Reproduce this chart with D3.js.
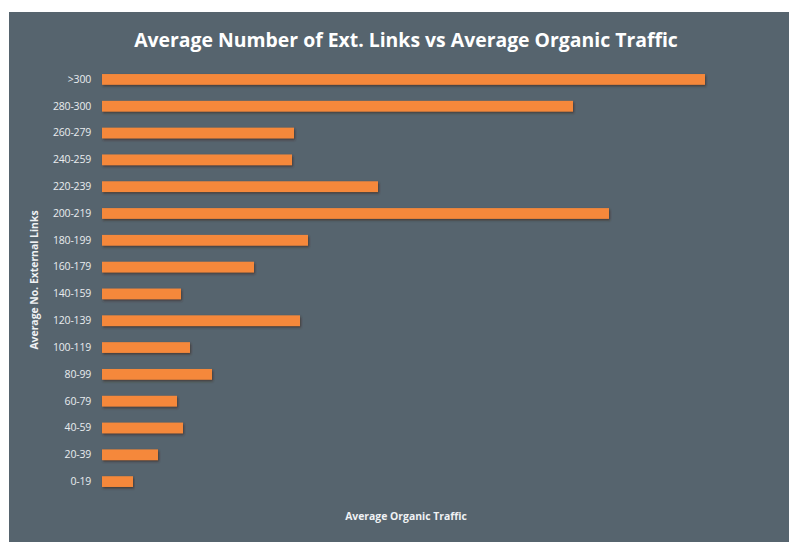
<!DOCTYPE html>
<html>
<head>
<meta charset="utf-8">
<script src="https://cdn.jsdelivr.net/npm/d3@7"></script>
<style>
  html, body { margin: 0; padding: 0; background: #ffffff; }
  svg { display: block; }
</style>
</head>
<body>
<div id="chart"></div>
<script>
// --- data (relative traffic, no scale shown)
const categories = ['>300', '280-300', '260-279', '240-259', '220-239', '200-219', '180-199', '160-179',
  '140-159', '120-139', '100-119', '80-99', '60-79', '40-59', '20-39', '0-19'];
const traffic = [603, 471, 192, 190, 276, 507, 206, 152, 79, 198, 88, 110, 75, 81, 56, 31];

const width = 789;
const height = 542;

const svg = d3.select('#chart')
  .append('svg')
  .attr('width', width)
  .attr('height', height);

// panel
svg.append('rect')
  .attr('x', 9).attr('y', 12)
  .attr('width', width - 9).attr('height', height - 12)
  .attr('fill', '#56646e');

const defs = svg.append('defs');
const shadow = defs.append('filter').attr('id', 'shadow')
  .attr('x', '-5%').attr('y', '-50%').attr('width', '110%').attr('height', '200%');
shadow.append('feDropShadow')
  .attr('dx', 1).attr('dy', 1.5).attr('stdDeviation', 0.8)
  .attr('flood-color', '#3a2a20').attr('flood-opacity', 0.7);

const x = d3.scaleLinear().domain([0, 603]).range([102, 705]);
const y = d3.scaleBand().domain(categories).range([66, 495]).paddingInner(0.6).paddingOuter(0.3);

// bars
svg.append('g')
  .selectAll('rect')
  .data(categories)
  .enter().append('rect')
  .attr('x', x(0))
  .attr('y', d => y(d))
  .attr('width', (d, i) => x(traffic[i]) - x(0))
  .attr('height', y.bandwidth())
  .attr('fill', '#f5883a')
  .attr('filter', 'url(#shadow)');

// y axis labels
const yAxis = svg.append('g')
  .attr('transform', 'translate(91,0)')
  .call(d3.axisLeft(y).tickSize(0).tickPadding(0));
yAxis.select('.domain').remove();
yAxis.selectAll('text')
  .attr('fill', '#e9ecee')
  .style('font-family', '"Open Sans", sans-serif')
  .style('font-size', '10.5px')
  .style('letter-spacing', '-0.2px');

// title
svg.append('text')
  .attr('x', 406).attr('y', 47)
  .attr('text-anchor', 'middle')
  .attr('fill', '#ffffff')
  .style('font-family', '"Open Sans", sans-serif')
  .style('font-weight', 'bold')
  .style('font-size', '19.4px')
  .text('Average Number of Ext. Links vs Average Organic Traffic');

// axis titles
svg.append('text')
  .attr('x', 406).attr('y', 520)
  .attr('text-anchor', 'middle')
  .attr('fill', '#f0f2f4')
  .style('font-family', '"Open Sans", sans-serif')
  .style('font-weight', 'bold')
  .style('font-size', '10.4px')
  .text('Average Organic Traffic');

svg.append('text')
  .attr('transform', 'translate(38,280) rotate(-90)')
  .attr('text-anchor', 'middle')
  .attr('fill', '#f0f2f4')
  .style('font-family', '"Open Sans", sans-serif')
  .style('font-weight', 'bold')
  .style('font-size', '10.4px')
  .text('Average No. External Links');
</script>
</body>
</html>
